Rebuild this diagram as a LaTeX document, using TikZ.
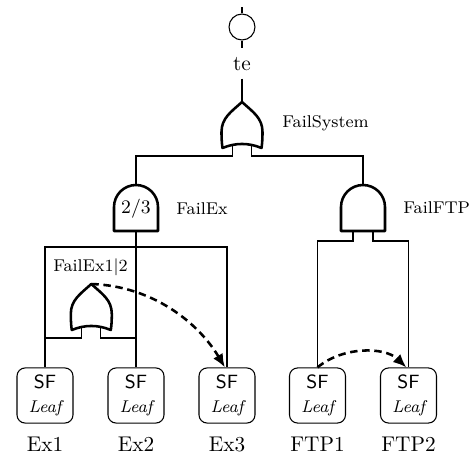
\documentclass[tikz,border=0pt]{standalone}
\usetikzlibrary{arrows.meta}
\begin{document}
\begin{tikzpicture}[x=0.47pt,y=-0.47pt,
  thinline/.style={line width=0.5pt},
  gateline/.style={line width=1.2pt, line join=round},
  leaf/.style={draw, line width=0.5pt, rounded corners=3.8pt, minimum width=26.3pt, minimum height=25.9pt, inner sep=1pt, align=center, font=\small},
  lbl/.style={font=\footnotesize, inner sep=0pt},
  nm/.style={anchor=base, inner sep=0pt},
  dep/.style={line width=1.2pt, dash pattern=on 3.5pt off 2.2pt, -{Latex[length=6.3pt,width=5.2pt]}},
  orgate/.pic={
    \draw[gateline] (0,0) .. controls (11,10) and (20.5,16) .. (20.5,30)
      .. controls (20.5,38) and (20,43) .. (19.5,46)
      .. controls (6.5,40.6) and (-6.5,40.6) .. (-19.5,46)
      .. controls (-20,43) and (-20.5,38) .. (-20.5,30)
      .. controls (-20.5,16) and (-11,10) .. cycle;
    \coordinate (-out) at (0,0);
    \coordinate (-in1) at (-9.6,42.5);
    \coordinate (-in2) at (9.6,42.5);
  },
  andgate/.pic={
    \draw[gateline] (-22,46) -- (-22,22) arc[start angle=180, end angle=360, radius=22] -- (22,46) -- cycle;
    \coordinate (-out) at (0,0);
    \coordinate (-in) at (0,46);
    \coordinate (-in1) at (-10,46);
    \coordinate (-in2) at (10,46);
  }
]
\useasboundingbox (0,0) rectangle (472,456);

% top event
\node[draw, circle, minimum size=12.2pt, inner sep=0pt, thinline] (top) at (242,27) {};
\coordinate (topin) at (242,7);
\coordinate (topout) at (242,48);
\draw[thinline] (top.north) -- (topin);
\draw[thinline] (top.south) -- (topout);
\node[anchor=base, inner sep=3.76pt] (te) at (242,70) {te};

% gates
\pic (fs) at (242,102) {orgate};
\pic (fex) at (136,185) {andgate};
\pic (fftp) at (363,185) {andgate};
\pic (o12) at (91.3,284) {orgate};
\node[font=\small, inner sep=0pt] (vote) at (136,209) {2/3};

% gate labels
\node[lbl, anchor=west] (lfs) at (282,123) {FailSystem};
\node[lbl, anchor=west] (lfex) at (176,209) {FailEx};
\node[lbl, anchor=west] (lftp) at (403,208) {FailFTP};
\node[lbl] (l12) at (90.5,267) {FailEx1|2};

% leaves
\node[leaf] (ex1) at (45,395.5) {{\sffamily SF}\\{\footnotesize\itshape Leaf}};
\node[leaf] (ex2) at (136,395.5) {{\sffamily SF}\\{\footnotesize\itshape Leaf}};
\node[leaf] (ex3) at (227,395.5) {{\sffamily SF}\\{\footnotesize\itshape Leaf}};
\node[leaf] (ftp1) at (317.5,395.5) {{\sffamily SF}\\{\footnotesize\itshape Leaf}};
\node[leaf] (ftp2) at (408.5,395.5) {{\sffamily SF}\\{\footnotesize\itshape Leaf}};
\node[nm] (nex1) at (45,451) {Ex1};
\node[nm] (nex2) at (136,451) {Ex2};
\node[nm] (nex3) at (227,451) {Ex3};
\node[nm] (nftp1) at (317.5,451) {FTP1};
\node[nm] (nftp2) at (408.5,451) {FTP2};

% connectors
\draw[thinline] (te) -- (fs-out);
\draw[thinline] (fs-in1) -- ++(0,11.5) -| (fex-out);
\draw[thinline] (fs-in2) -- ++(0,11.5) -| (fftp-out);
\draw[thinline] (fex-in) -- ++(0,16) -| (ex1.north);
\draw[thinline] (fex-in) -- (ex2.north);
\draw[thinline] (fex-in) -- ++(0,16) -| (ex3.north);
\draw[thinline] (o12-in1) -- ++(0,11.5) -| (ex1.north);
\draw[thinline] (o12-in2) -- ++(0,11.5) -| (ex2.north);
\draw[thinline] (fftp-in1) -- ++(0,10) -| (ftp1.north);
\draw[thinline] (fftp-in2) -- ++(0,10) -| (ftp2.north);

% dependencies
\draw[dep] (o12-out) .. controls +(62,2) and +(-26,-44) .. ([xshift=-1pt]ex3.north);
\draw[dep] (ftp1.north) .. controls +(25,-21) and +(-22,-21) .. ([xshift=-1pt]ftp2.north);
\end{tikzpicture}
\end{document}
